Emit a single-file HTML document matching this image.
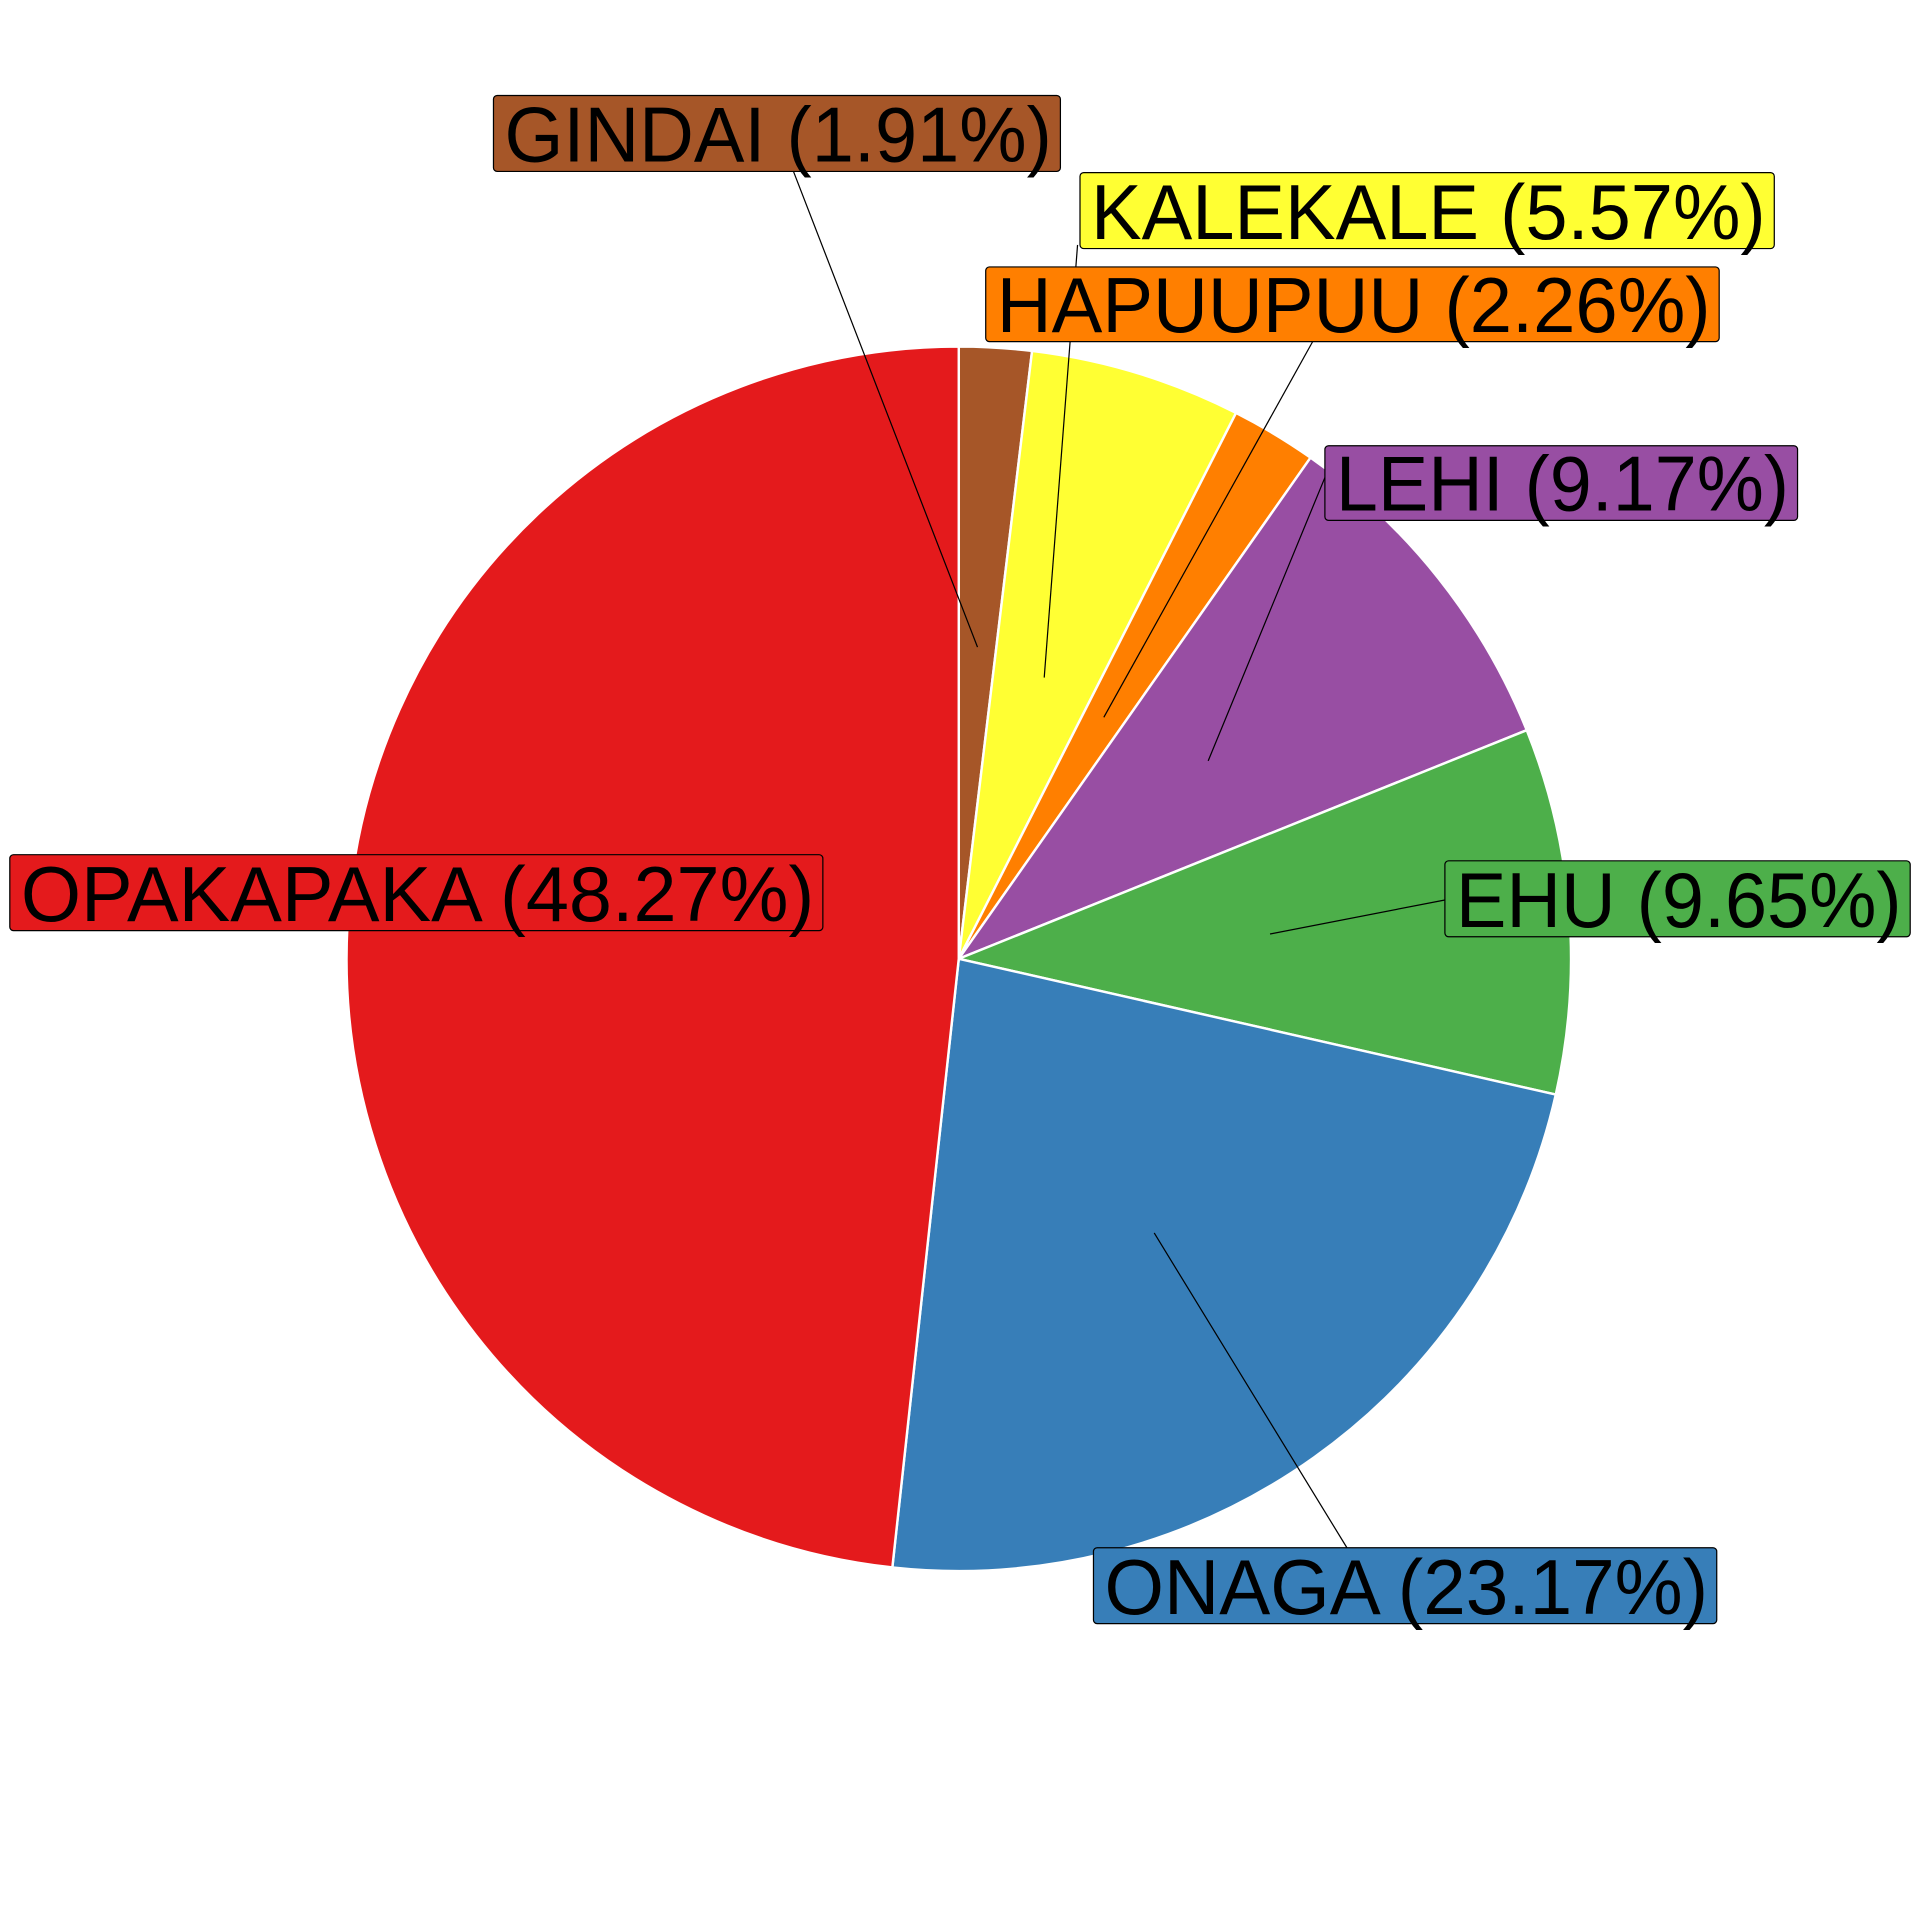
<!DOCTYPE html>
<html><head><meta charset="utf-8"><style>html,body{margin:0;padding:0;background:#fff}svg{display:block}</style></head>
<body>
<svg id="chart" width="1920" height="1920" viewBox="0 0 1568 1568" xmlns="http://www.w3.org/2000/svg" font-family="Liberation Sans, sans-serif">
<g id="slices"></g><g id="labels"></g>
</svg>
<script>
const categories = ["GINDAI","KALEKALE","HAPUUPUU","LEHI","EHU","ONAGA","OPAKAPAKA"];
const values = [1.91,5.57,2.26,9.17,9.65,23.17,48.27];
const labelTexts = ["GINDAI (1.91%)","KALEKALE (5.57%)","HAPUUPUU (2.26%)","LEHI (9.17%)","EHU (9.65%)","ONAGA (23.17%)","OPAKAPAKA (48.27%)"];
const colors = ["#A65628","#FFFF33","#FF7F00","#984EA3","#4DAF4A","#377EB8","#E41A1C"];
// label box layout: [x, y, w, h], leader start
const boxes = [[403,78,463,62],[882,141,567,62],[805,218,599,61],[1082,364,386,61],[1180,703,380,62],[893,1264,509,62],[8,698,664,62]];
const leaderEnds = [[648,140],[880,200],[1072,279],[1082,390],[1180,735],[1100,1264],null];
const leaderFrac = [0.51,0.48,0.46,0.52,0.51,0.55,0.5];
const cx=783, cy=783, R=500, NS="http://www.w3.org/2000/svg";
const total = values.reduce((a,b)=>a+b,0);
function pt(frac,r){const a=frac*2*Math.PI;return [cx+r*Math.sin(a), cy-r*Math.cos(a)];}
const gs=document.getElementById('slices'), gl=document.getElementById('labels');
let acc=0;
values.forEach((v,i)=>{
  const f0=acc/total, f1=(acc+v)/total; acc+=v;
  const p0=pt(f0,R), p1=pt(f1,R), large=(f1-f0)>0.5?1:0;
  const p=document.createElementNS(NS,'path');
  p.setAttribute('d',`M${cx},${cy}L${p0[0]},${p0[1]}A${R},${R} 0 ${large} 1 ${p1[0]},${p1[1]}Z`);
  p.setAttribute('fill',colors[i]);p.setAttribute('stroke','#fff');p.setAttribute('stroke-width','2');
  
  
  gs.appendChild(p);
  const mid=pt((f0+f1)/2,R*leaderFrac[i]);
  if(leaderEnds[i]){
    const l=document.createElementNS(NS,'line');
    l.setAttribute('x1',mid[0]);l.setAttribute('y1',mid[1]);l.setAttribute('x2',leaderEnds[i][0]);l.setAttribute('y2',leaderEnds[i][1]);
    l.setAttribute('stroke','#000');l.setAttribute('stroke-width','1');
    
    
    gl.appendChild(l);
  }
  const b=boxes[i];
  const r=document.createElementNS(NS,'rect');
  r.setAttribute('x',b[0]);r.setAttribute('y',b[1]);r.setAttribute('width',b[2]);r.setAttribute('height',b[3]);r.setAttribute('rx',3);
  r.setAttribute('fill',colors[i]);r.setAttribute('stroke','#000');r.setAttribute('stroke-width','1');
  
  
  gl.appendChild(r);
  const t=document.createElementNS(NS,'text');
  t.setAttribute('x',b[0]+9);t.setAttribute('y',b[1]+b[3]-8);t.setAttribute('font-size','64');
  t.setAttribute('textLength',b[2]-16);t.setAttribute('lengthAdjust','spacingAndGlyphs');
  t.textContent=labelTexts[i];
  
  
  gl.appendChild(t);
});
</script>
</body></html>
